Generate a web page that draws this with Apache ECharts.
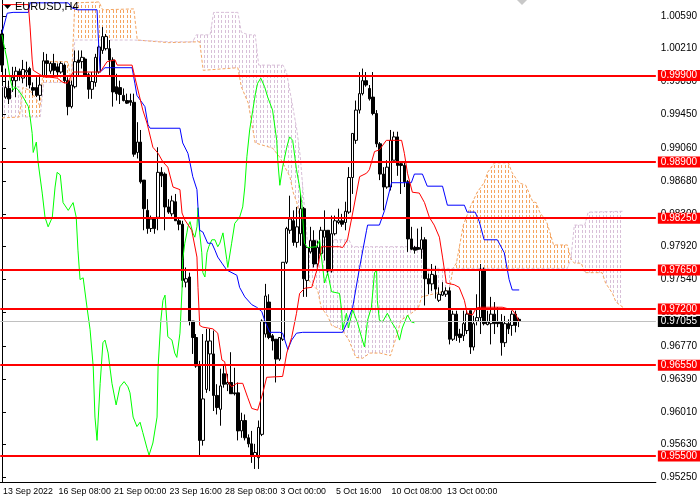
<!DOCTYPE html>
<html>
<head>
<meta charset="utf-8">
<script src="https://cdn.jsdelivr.net/npm/echarts@6/dist/echarts.min.js"></script>
<style>
html, body { margin: 0; padding: 0; background: #fff; }
#main { width: 700px; height: 500px; }
</style>
</head>
<body>
<div id="main"></div>
<script>
// bars on the chart (price bars + cloud shift)
var barCount = 189;

// time axis labels
var tickBars = [0, 16, 32, 48, 64, 80, 96, 112, 128];
var tickLabels = ['13 Sep 2022', '16 Sep 08:00', '21 Sep 00:00', '23 Sep 16:00', '28 Sep 08:00',
	'3 Oct 00:00', '5 Oct 16:00', '10 Oct 08:00', '13 Oct 00:00'];

// price axis labels
var priceTicks = [1.00590, 1.00210, 0.99830, 0.99450, 0.99060, 0.98680, 0.98300, 0.97920,
	0.97540, 0.97160, 0.96770, 0.96390, 0.96010, 0.95630, 0.95250];

// horizontal levels and last price
var levels = [0.99900, 0.98900, 0.98250, 0.97650, 0.97200, 0.96550, 0.95500];
var lastPrice = 0.97055;

// EURUSD H4 candles: [open, close, low, high]
var candles = [
	[1.0038, 1.0002, 0.9994, 1.0043], [0.9965, 0.9976, 0.9963, 0.9998], [0.9975, 0.9963, 0.9957, 0.9984],
	[0.9984, 0.9988, 0.9971, 1.0000], [0.9984, 0.9995, 0.9965, 1.0000], [0.9995, 0.9990, 0.9984, 0.9998],
	[0.9987, 0.9997, 0.9981, 1.0008], [0.9994, 0.9996, 0.9977, 1.0006], [0.9998, 0.9979, 0.9975, 1.0000],
	[0.9976, 0.9973, 0.9967, 0.9982], [0.9976, 0.9967, 0.9965, 0.9988], [0.9967, 0.9979, 0.9961, 0.9990],
	[0.9990, 1.0007, 0.9988, 1.0017], [1.0007, 1.0004, 0.9988, 1.0015], [0.9995, 1.0004, 0.9992, 1.0006],
	[1.0004, 0.9996, 0.9990, 1.0015], [1.0000, 0.9994, 0.9990, 1.0004], [0.9994, 1.0004, 0.9992, 1.0006],
	[1.0002, 0.9984, 0.9981, 1.0004], [0.9984, 0.9954, 0.9944, 0.9988], [0.9954, 0.9979, 0.9952, 0.9984],
	[0.9977, 1.0006, 0.9975, 1.0019], [1.0008, 1.0005, 0.9990, 1.0019], [1.0006, 1.0011, 0.9998, 1.0019],
	[1.0009, 0.9990, 0.9989, 1.0011], [0.9991, 0.9974, 0.9963, 0.9993], [0.9974, 0.9983, 0.9963, 0.9994],
	[0.9982, 1.0011, 0.9977, 1.0015], [0.9994, 1.0023, 0.9992, 1.0025], [1.0019, 1.0035, 1.0015, 1.0046],
	[1.0021, 1.0035, 1.0019, 1.0038], [1.0021, 1.0008, 0.9990, 1.0031], [1.0008, 0.9971, 0.9954, 1.0011],
	[0.9977, 0.9969, 0.9961, 0.9992], [0.9976, 0.9968, 0.9957, 0.9984], [0.9967, 0.9961, 0.9960, 0.9975],
	[0.9961, 0.9958, 0.9957, 0.9969], [0.9961, 0.9959, 0.9955, 0.9969],
	[0.9959, 0.9899, 0.9896, 0.9969], [0.9901, 0.9913, 0.9894, 0.9936], [0.9913, 0.9867, 0.9865, 0.9927],
	[0.9869, 0.9836, 0.9811, 0.9869], [0.9834, 0.9813, 0.9807, 0.9847], [0.9813, 0.9824, 0.9809, 0.9828],
	[0.9824, 0.9813, 0.9807, 0.9826], [0.9826, 0.9878, 0.9811, 0.9907], [0.9878, 0.9874, 0.9861, 0.9884],
	[0.9876, 0.9838, 0.9811, 0.9878], [0.9838, 0.9832, 0.9830, 0.9847], [0.9830, 0.9845, 0.9827, 0.9851],
	[0.9844, 0.9822, 0.9822, 0.9853], [0.9822, 0.9818, 0.9811, 0.9826], [0.9818, 0.9753, 0.9745, 0.9822],
	[0.9751, 0.9755, 0.9745, 0.9768], [0.9757, 0.9706, 0.9701, 0.9762], [0.9706, 0.9687, 0.9668, 0.9706],
	[0.9687, 0.9654, 0.9652, 0.9691], [0.9654, 0.9568, 0.9550, 0.9660], [0.9568, 0.9616, 0.9562, 0.9691],
	[0.9627, 0.9683, 0.9623, 0.9697], [0.9668, 0.9683, 0.9625, 0.9697], [0.9668, 0.9620, 0.9602, 0.9695],
	[0.9620, 0.9606, 0.9598, 0.9633], [0.9604, 0.9631, 0.9585, 0.9651], [0.9645, 0.9633, 0.9629, 0.9656],
	[0.9633, 0.9635, 0.9625, 0.9645], [0.9635, 0.9622, 0.9622, 0.9670], [0.9623, 0.9622, 0.9620, 0.9652],
	[0.9623, 0.9579, 0.9568, 0.9635], [0.9579, 0.9591, 0.9571, 0.9600], [0.9591, 0.9571, 0.9568, 0.9598],
	[0.9571, 0.9564, 0.9560, 0.9575], [0.9564, 0.9550, 0.9542, 0.9579], [0.9550, 0.9554, 0.9535, 0.9564],
	[0.9548, 0.9583, 0.9535, 0.9591], [0.9575, 0.9706, 0.9573, 0.9708],
	[0.9691, 0.9735, 0.9687, 0.9749], [0.9728, 0.9687, 0.9685, 0.9737], [0.9689, 0.9683, 0.9672, 0.9691],
	[0.9685, 0.9662, 0.9635, 0.9685], [0.9662, 0.9687, 0.9660, 0.9687], [0.9685, 0.9774, 0.9683, 0.9774],
	[0.9774, 0.9813, 0.9772, 0.9815], [0.9811, 0.9824, 0.9807, 0.9851], [0.9822, 0.9797, 0.9793, 0.9834],
	[0.9797, 0.9815, 0.9791, 0.9838], [0.9807, 0.9836, 0.9793, 0.9853], [0.9836, 0.9755, 0.9734, 0.9838],
	[0.9753, 0.9791, 0.9734, 0.9791], [0.9786, 0.9799, 0.9784, 0.9815], [0.9799, 0.9772, 0.9768, 0.9811],
	[0.9772, 0.9791, 0.9768, 0.9799], [0.9784, 0.9811, 0.9782, 0.9815], [0.9803, 0.9811, 0.9776, 0.9834],
	[0.9811, 0.9764, 0.9759, 0.9811], [0.9764, 0.9807, 0.9762, 0.9828], [0.9807, 0.9822, 0.9805, 0.9828],
	[0.9820, 0.9822, 0.9818, 0.9836], [0.9822, 0.9818, 0.9815, 0.9830], [0.9820, 0.9833, 0.9811, 0.9844],
	[0.9832, 0.9872, 0.9830, 0.9884], [0.9872, 0.9923, 0.9853, 0.9923], [0.9915, 0.9950, 0.9911, 0.9961],
	[0.9950, 0.9969, 0.9946, 0.9994], [0.9969, 0.9984, 0.9967, 0.9998], [0.9984, 0.9979, 0.9977, 0.9994],
	[0.9975, 0.9963, 0.9961, 0.9979], [0.9965, 0.9946, 0.9944, 0.9994], [0.9946, 0.9911, 0.9907, 0.9950],
	[0.9911, 0.9876, 0.9869, 0.9913], [0.9876, 0.9861, 0.9834, 0.9884], [0.9861, 0.9884, 0.9859, 0.9892],
	[0.9861, 0.9915, 0.9857, 0.9927],
	[0.9892, 0.9919, 0.9892, 0.9925], [0.9919, 0.9886, 0.9874, 0.9925], [0.9888, 0.9886, 0.9853, 0.9890],
	[0.9886, 0.9867, 0.9861, 0.9890], [0.9867, 0.9801, 0.9786, 0.9869], [0.9801, 0.9789, 0.9788, 0.9815],
	[0.9791, 0.9788, 0.9784, 0.9793], [0.9791, 0.9789, 0.9788, 0.9813], [0.9789, 0.9800, 0.9778, 0.9815],
	[0.9800, 0.9755, 0.9724, 0.9803], [0.9755, 0.9749, 0.9737, 0.9761], [0.9749, 0.9760, 0.9741, 0.9772],
	[0.9759, 0.9743, 0.9732, 0.9770], [0.9730, 0.9737, 0.9728, 0.9745], [0.9736, 0.9740, 0.9735, 0.9751],
	[0.9737, 0.9741, 0.9734, 0.9745], [0.9741, 0.9685, 0.9679, 0.9745], [0.9685, 0.9714, 0.9683, 0.9718],
	[0.9714, 0.9689, 0.9683, 0.9718], [0.9691, 0.9687, 0.9681, 0.9697], [0.9689, 0.9703, 0.9683, 0.9718],
	[0.9695, 0.9714, 0.9691, 0.9720], [0.9718, 0.9676, 0.9668, 0.9718], [0.9676, 0.9703, 0.9672, 0.9712],
	[0.9706, 0.9710, 0.9701, 0.9737], [0.9710, 0.9766, 0.9691, 0.9772], [0.9766, 0.9703, 0.9701, 0.9768],
	[0.9702, 0.9705, 0.9701, 0.9718], [0.9703, 0.9714, 0.9679, 0.9734], [0.9714, 0.9703, 0.9691, 0.9728],
	[0.9705, 0.9703, 0.9699, 0.9722], [0.9705, 0.9681, 0.9666, 0.9714], [0.9681, 0.9703, 0.9676, 0.9712],
	[0.9703, 0.9697, 0.9691, 0.9708], [0.9701, 0.9714, 0.9689, 0.9718], [0.9714, 0.9701, 0.9693, 0.9718],
	[0.9708, 0.97055, 0.9699, 0.9710]
];

// Ichimoku lines, [bar, price]
var tenkan = [[0, 1.0072], [7.6, 1.0072], [8.1, 1.0046], [8.7, 1.0008], [9.0, 0.9996], [11.0, 0.9991], [12.4, 0.9988],
	[13.9, 0.9988], [15.9, 0.9987], [17.6, 0.9982], [18.8, 0.9981], [19.6, 0.9987], [20.5, 0.9994], [28.3, 0.9994],
	[30.3, 1.0006], [32.6, 1.0008], [33.2, 1.0002], [37.5, 1.0002], [38.3, 0.9988], [40.6, 0.9950], [41.8, 0.9935],
	[43.5, 0.9907], [45.0, 0.9900], [46.4, 0.9890], [47.8, 0.9884], [49.3, 0.9861], [51.3, 0.9858], [51.9, 0.9831],
	[52.7, 0.9823], [54.7, 0.9811], [56.2, 0.9780], [56.5, 0.9745], [57.0, 0.9701], [57.9, 0.9699], [60.8, 0.9697],
	[62.2, 0.9692], [63.4, 0.9661], [64.2, 0.9659], [65.1, 0.9636], [66.2, 0.9630], [67.7, 0.9634], [69.4, 0.9634],
	[70.8, 0.9618], [72.0, 0.9605], [73.7, 0.9603], [75.2, 0.9623], [76.3, 0.9641], [80.9, 0.9642], [82.1, 0.9669],
	[83.5, 0.9687], [84.9, 0.9715], [85.8, 0.9738], [87.3, 0.9744], [89.3, 0.9745], [91.0, 0.9768], [92.1, 0.9792],
	[97.3, 0.9792], [98.2, 0.9791], [99.6, 0.9800], [101.1, 0.9831], [103.1, 0.9873], [105.1, 0.9877], [105.9, 0.9881],
	[107.4, 0.9902], [108.8, 0.9904], [110.8, 0.9915], [115.2, 0.9915], [116.0, 0.9900], [116.9, 0.9877], [118.3, 0.9855],
	[120.3, 0.9854], [121.8, 0.9843], [123.2, 0.9826], [124.6, 0.9817], [126.1, 0.9803], [127.0, 0.9780], [128.1, 0.9750],
	[130.4, 0.9748], [131.8, 0.9745], [133.3, 0.9730], [134.1, 0.9715], [135.6, 0.9713], [136.7, 0.9721], [137.6, 0.9722],
	[144.2, 0.9722], [147.1, 0.9719], [148.2, 0.9713], [149.1, 0.9705]];

var kijun = [[0, 1.0039], [1.5, 1.0062], [3.2, 1.0063], [7.6, 1.0063], [8.1, 1.0074], [19.1, 1.0074], [20.2, 1.0068],
	[21.7, 1.0066], [27.4, 1.0066], [27.7, 1.0039], [28.3, 0.9994], [29.7, 0.9999], [37.5, 0.9999], [38.3, 0.9981],
	[38.9, 0.9967], [41.2, 0.9954], [42.1, 0.9933], [42.7, 0.9929], [51.3, 0.9929], [52.1, 0.9912], [53.6, 0.9900],
	[54.2, 0.9889], [55.0, 0.9873], [56.2, 0.9858], [56.5, 0.9838], [57.0, 0.9811], [57.9, 0.9809], [59.3, 0.9796],
	[60.5, 0.9796], [61.4, 0.9788], [62.2, 0.9780], [63.4, 0.9773], [64.8, 0.9765], [67.7, 0.9759], [68.5, 0.9745],
	[70.0, 0.9734], [72.0, 0.9725], [73.4, 0.9722], [74.9, 0.9717], [75.7, 0.9707], [77.2, 0.9693], [80.1, 0.9693],
	[80.9, 0.9692], [82.4, 0.9673], [83.5, 0.9684], [84.9, 0.9692], [86.7, 0.9693], [98.2, 0.9693], [99.6, 0.9705],
	[101.1, 0.9722], [103.1, 0.9768], [105.1, 0.9811], [105.4, 0.9817], [108.8, 0.9817], [110.3, 0.9834], [112.3, 0.9866],
	[118.0, 0.9866], [118.9, 0.9876], [121.2, 0.9876], [122.6, 0.9862], [127.0, 0.9862], [128.4, 0.9840], [133.3, 0.9840],
	[134.1, 0.9832], [136.4, 0.9832], [137.6, 0.9821], [139.0, 0.9800], [142.8, 0.9800], [144.8, 0.9785], [146.2, 0.9754],
	[147.1, 0.9742], [149.1, 0.9742]];

var chikou = [[0, 1.0037], [0.4, 1.0028], [1.5, 1.0008], [2.4, 0.9985], [3.2, 0.9973], [3.8, 0.9977], [4.7, 0.9973],
	[6.1, 0.9965], [7.6, 0.9954], [8.1, 0.9942], [8.7, 0.9923], [9.0, 0.9901], [9.9, 0.9913], [10.4, 0.9890],
	[11.6, 0.9854], [12.4, 0.9826], [13.3, 0.9815], [14.5, 0.9826], [15.3, 0.9861], [15.9, 0.9878], [16.8, 0.9875],
	[17.6, 0.9843], [19.1, 0.9834], [20.5, 0.9843], [21.4, 0.9826], [21.9, 0.9788], [22.5, 0.9754], [23.4, 0.9756],
	[24.5, 0.9722], [25.4, 0.9696], [26.3, 0.9653], [26.8, 0.9595], [27.4, 0.9568], [28.3, 0.9634], [29.1, 0.9681],
	[29.7, 0.9684], [30.6, 0.9669], [31.7, 0.9634], [32.9, 0.9609], [34.0, 0.9630], [35.2, 0.9636], [36.3, 0.9630],
	[36.9, 0.9623], [37.8, 0.9595], [38.9, 0.9584], [39.8, 0.9589], [40.6, 0.9577], [41.8, 0.9559], [42.4, 0.9551],
	[43.5, 0.9565], [44.7, 0.9595], [45.0, 0.9653], [45.8, 0.9707], [46.4, 0.9730], [47.0, 0.9736], [47.5, 0.9707],
	[47.8, 0.9688], [49.0, 0.9684], [49.8, 0.9669], [50.4, 0.9664], [51.3, 0.9692], [51.9, 0.9742], [52.1, 0.9777],
	[52.7, 0.9796], [53.3, 0.9808], [53.6, 0.9815], [54.2, 0.9821], [54.7, 0.9821], [55.0, 0.9808], [55.6, 0.9803],
	[56.2, 0.9815], [56.5, 0.9837], [57.0, 0.9808], [57.6, 0.9785], [57.9, 0.9762], [58.5, 0.9757], [59.1, 0.9785],
	[59.6, 0.9792], [60.5, 0.9800], [61.4, 0.9800], [62.2, 0.9792], [62.8, 0.9796], [63.7, 0.9808], [64.8, 0.9777],
	[65.1, 0.9768], [66.2, 0.9796], [67.1, 0.9819], [68.5, 0.9826], [69.4, 0.9838], [70.0, 0.9861], [70.6, 0.9896],
	[71.4, 0.9927], [72.3, 0.9950], [73.1, 0.9970], [73.7, 0.9981], [74.6, 0.9987], [75.7, 0.9977], [76.6, 0.9965],
	[78.0, 0.9950], [79.2, 0.9915], [79.5, 0.9892], [80.1, 0.9863], [80.9, 0.9884], [82.1, 0.9907], [82.9, 0.9919],
	[83.8, 0.9915], [84.9, 0.9881], [85.8, 0.9861], [86.4, 0.9843], [87.2, 0.9796], [88.1, 0.9791], [90.7, 0.9792],
	[91.6, 0.9800], [92.1, 0.9780], [93.0, 0.9750], [93.9, 0.9762], [95.0, 0.9740], [97.3, 0.9738], [97.9, 0.9719],
	[98.2, 0.9696], [99.3, 0.9715], [99.9, 0.9698], [101.1, 0.9719], [102.5, 0.9704], [103.6, 0.9688], [104.5, 0.9676],
	[105.4, 0.9707], [106.5, 0.9722], [107.4, 0.9762], [108.0, 0.9765], [108.2, 0.9730], [108.8, 0.9707], [109.7, 0.9705],
	[111.1, 0.9715], [112.3, 0.9705], [113.7, 0.9696], [114.6, 0.9684], [115.4, 0.9698], [116.9, 0.9713], [118.0, 0.9705],
	[118.9, 0.9704]];

var spanA = [[0, 0.9941], [5, 0.9942], [6, 0.9976], [8, 0.9973], [10, 0.9962], [11, 0.9954], [12, 1.0006], [19, 1.0006],
	[20, 0.9982], [21, 1.0074], [28, 1.0075], [29, 1.0066], [38, 1.0067], [39, 1.0031], [48, 1.0028], [57, 1.0029],
	[58, 0.9996], [68, 0.9999], [69, 0.9977], [71, 0.9958], [73, 0.9912], [78, 0.9906], [80, 0.9896], [83, 0.9873],
	[84, 0.9854], [85, 0.9843], [87, 0.9800], [88, 0.9757], [89, 0.9750], [91, 0.9742], [92, 0.9722], [94, 0.9711],
	[95, 0.9701], [98, 0.9696], [100, 0.9684], [102, 0.9664], [104, 0.9663], [106, 0.9669], [109, 0.9669], [112, 0.9666],
	[114, 0.9692], [115, 0.9707], [118, 0.9715], [120, 0.9721], [121, 0.9734], [129, 0.9742], [130, 0.9767], [131, 0.9773],
	[133, 0.9817], [135, 0.9838], [137, 0.9855], [139, 0.9866], [140, 0.9878], [142, 0.9889], [146, 0.9889], [147, 0.9878],
	[149, 0.9866], [151, 0.9863], [153, 0.9844], [154, 0.9843], [155, 0.9832], [157, 0.9821], [158, 0.9808], [159, 0.9794],
	[163, 0.9794], [164, 0.9778], [165, 0.9773], [167, 0.9773], [168, 0.9762], [173, 0.9762], [174, 0.9750], [176, 0.9738],
	[177, 0.9728], [179, 0.9722]];

var spanB = [[0, 0.9977], [5, 0.9977], [6, 0.9942], [11, 0.9942], [12, 0.9982], [20, 0.9982], [21, 1.0031], [38, 1.0031],
	[48, 1.0029], [55, 1.0029], [56, 1.0037], [60, 1.0037], [61, 1.0063], [68, 1.0063], [69, 1.0040], [71, 1.0037],
	[73, 1.0037], [74, 1.0002], [81, 1.0002], [82, 0.9994], [84, 0.9950], [85, 0.9927], [86, 0.9896], [87, 0.9846],
	[88, 0.9800], [100, 0.9800], [101, 0.9792], [121, 0.9792], [122, 0.9767], [130, 0.9767], [163, 0.9767], [164, 0.9778],
	[165, 0.9817], [168, 0.9817], [169, 0.9832], [179, 0.9833]];

// cloud parts: bar range and which span is on top
var cloudParts = [
	{ from: 0, to: 5, up: 'B' },
	{ from: 6, to: 20, up: 'A' },
	{ from: 21, to: 38, up: 'A' },
	{ from: 55, to: 130, up: 'B' },
	{ from: 130, to: 164, up: 'A' },
	{ from: 164, to: 179, up: 'B' }
];

var cats = [];
for (var i = 0; i < barCount; i++) cats.push(String(i));

function hatch(color) {
	var c = document.createElement('canvas');
	c.width = 7;
	c.height = 5;
	var ctx = c.getContext('2d');
	ctx.fillStyle = color;
	ctx.fillRect(1, 0, 1, 3);
	ctx.fillRect(4, 0, 1, 3);
	return { image: c, repeat: 'repeat' };
}
var hatchA = hatch('#f4a460');
var hatchB = hatch('#d8bfd8');

var font = 'Liberation Sans';

function isTick(idx) {
	return tickBars.indexOf(idx) >= 0;
}

var myChart = echarts.init(document.getElementById('main'));

var option = {
	animation: false,
	backgroundColor: '#fff',
	title: {
		text: 'EURUSD,H4',
		left: 15,
		top: 1,
		padding: 0,
		textStyle: { fontSize: 11, fontWeight: 'normal', color: '#000', fontFamily: font }
	},
	graphic: [
		{ type: 'polygon', shape: { points: [[4, 5], [11, 5], [7.5, 9]] }, style: { fill: '#000' }, z: 100 },
		{ type: 'polygon', shape: { points: [[517, 0], [527, 0], [522, 5]] }, style: { fill: '#c8c8c8' }, z: 100 }
	],
	grid: { left: 0, right: 43, top: 0, bottom: 18, containLabel: false },
	xAxis: [
		{
			type: 'category',
			data: cats,
			boundaryGap: true,
			axisLine: { lineStyle: { color: '#000', width: 1 } },
			axisTick: {
				alignWithLabel: true,
				length: 4,
				lineStyle: { color: '#000' },
				interval: isTick
			},
			axisLabel: {
				interval: isTick,
				showMinLabel: true,
				showMaxLabel: true,
				hideOverlap: false,
				formatter: function(v) {
					var k = tickBars.indexOf(Number(v));
					return k >= 0 ? tickLabels[k] : '';
				},
				align: 'left',
				margin: 5,
				padding: [0, 0, 0, 1],
				color: '#000',
				fontSize: 8.8,
				fontFamily: font
			},
			splitLine: { show: false }
		},
		{
			type: 'value',
			min: -0.5,
			max: barCount - 0.5,
			show: false
		}
	],
	yAxis: {
		type: 'value',
		position: 'right',
		min: 0.95199,
		max: 1.00773,
		axisLine: { show: true, lineStyle: { color: '#000', width: 1 } },
		axisTick: { show: true, length: 4, customValues: priceTicks, lineStyle: { color: '#000' } },
		axisLabel: {
			customValues: priceTicks,
			formatter: function(v) { return v.toFixed(5); },
			margin: 5,
			color: '#000',
			fontSize: 10,
			fontFamily: font
		},
		splitLine: { show: false }
	},
	series: [
		{
			type: 'custom',
			name: 'cloud',
			xAxisIndex: 1,
			z: 1,
			silent: true,
			clip: true,
			data: cloudParts.map(function(p, k) { return [k, 0.98]; }),
			renderItem: function(params, api) {
				var part = cloudParts[params.dataIndex];
				var inRange = function(p) { return p[0] >= part.from && p[0] <= part.to; };
				var a = spanA.filter(inRange);
				var b = spanB.filter(inRange).reverse();
				var pts = a.concat(b).map(function(p) { return api.coord(p); });
				return {
					type: 'polygon',
					shape: { points: pts },
					style: { fill: part.up === 'A' ? hatchA : hatchB, stroke: null }
				};
			}
		},
		{
			type: 'line',
			name: 'Senkou A',
			xAxisIndex: 1,
			data: spanA,
			symbol: 'none',
			z: 1,
			lineStyle: { color: '#f4a460', width: 1, type: [3, 2] }
		},
		{
			type: 'line',
			name: 'Senkou B',
			xAxisIndex: 1,
			data: spanB,
			symbol: 'none',
			z: 1,
			lineStyle: { color: '#d8bfd8', width: 1, type: [3, 2] }
		},
		{
			type: 'candlestick',
			name: 'EURUSD',
			data: candles,
			barWidth: 3,
			z: 2,
			itemStyle: {
				color: '#fff',
				color0: '#000',
				borderColor: '#000',
				borderColor0: '#000',
				borderWidth: 1
			}
		},
		{
			type: 'line',
			name: 'Chikou',
			xAxisIndex: 1,
			data: chikou,
			symbol: 'none',
			z: 3,
			lineStyle: { color: '#00ff00', width: 1 }
		},
		{
			type: 'line',
			name: 'Kijun',
			xAxisIndex: 1,
			data: kijun,
			symbol: 'none',
			z: 3,
			lineStyle: { color: '#0000ff', width: 1 }
		},
		{
			type: 'line',
			name: 'Tenkan',
			xAxisIndex: 1,
			data: tenkan,
			symbol: 'none',
			z: 4,
			lineStyle: { color: '#ff0000', width: 1 },
			markLine: {
				silent: true,
				symbol: ['none', 'none'],
				precision: 5,
				lineStyle: { color: '#ff0000', width: 2, type: 'solid' },
				label: {
					position: 'end',
					distance: 2,
					formatter: function(p) { return p.value.toFixed(5); },
					color: '#fff',
					backgroundColor: '#ff0000',
					padding: [1, 4, 0, 3],
					fontSize: 10,
					fontFamily: font
				},
				data: [{
					yAxis: lastPrice,
					lineStyle: { color: '#c0c0c0', width: 1, type: 'solid' },
					label: { backgroundColor: '#000', color: '#fff' }
				}].concat(levels.map(function(v) { return { yAxis: v }; }))
			}
		}
	]
};

myChart.setOption(option);
</script>
</body>
</html>
